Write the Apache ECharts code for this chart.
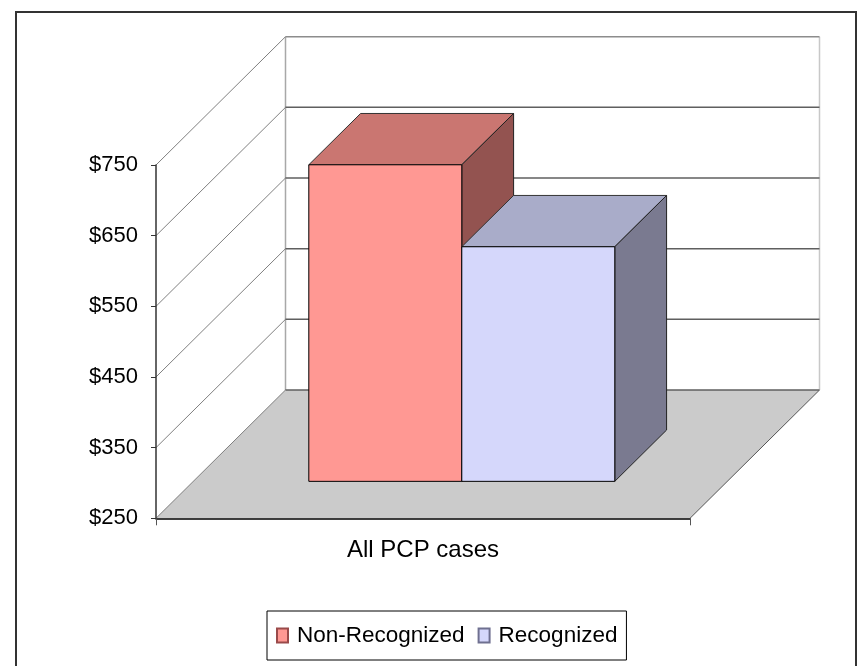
<!DOCTYPE html>
<html>
<head>
<meta charset="utf-8">
<script src="https://cdn.jsdelivr.net/npm/echarts@6/dist/echarts.min.js"></script>
<style>
  html, body { margin: 0; padding: 0; background: #fff; }
  #chart { width: 864px; height: 666px; }
</style>
</head>
<body>
<div id="chart"></div>
<script>
const categories = ['All PCP cases']
const seriesNames = ['Non-Recognized', 'Recognized']
const nonRecognized = [698]
const recognized = [582]
const yTicks = [250, 350, 450, 550, 650, 750]

// offset of the back wall from the front plane, px
const DEPTH_X = 129.5
const DEPTH_Y = -128.3
// bars sit inside the depth: start and thickness as a share of it
const BAR_FRONT = 0.288
const BAR_DEPTH = 0.40
// width of one bar as a share of the category band
const BAR_WIDTH = 0.2865

const FONT = "'Liberation Sans', Arial, sans-serif"

const faces = [
  { front: '#FF9893', top: '#CA7671', side: '#935350', border: '#9A4A4A' },
  { front: '#D5D7FB', top: '#A9ACC9', side: '#7A7A90', border: '#6F7090' }
]

// back wall, side wall and floor, one item per value tick
function renderWall (params, api) {
  const v = api.value(1)
  const p = api.coord([api.value(0), v])
  const band = api.size([1, 0])[0]
  const xl = p[0] - band / 2
  const xr = p[0] + band / 2
  const y = p[1]
  const children = []
  if (params.dataIndex === 0) {
    const yTop = api.coord([api.value(0), yTicks[yTicks.length - 1]])[1]
    children.push({
      type: 'polygon',
      shape: { points: [[xl, y], [xr, y], [xr + DEPTH_X, y + DEPTH_Y], [xl + DEPTH_X, y + DEPTH_Y]] },
      style: { fill: '#CBCBCB' }
    })
    children.push({
      type: 'line',
      shape: { x1: xr, y1: y, x2: xr + DEPTH_X, y2: y + DEPTH_Y },
      style: { stroke: '#555', lineWidth: 1 }
    })
    children.push({
      type: 'line',
      shape: { x1: xl + DEPTH_X, y1: yTop + DEPTH_Y, x2: xl + DEPTH_X, y2: y + DEPTH_Y },
      style: { stroke: '#A8A8A8', lineWidth: 1.5 }
    })
    children.push({
      type: 'line',
      shape: { x1: xr + DEPTH_X, y1: yTop + DEPTH_Y, x2: xr + DEPTH_X, y2: y + DEPTH_Y },
      style: { stroke: '#C8C8C8', lineWidth: 1.5 }
    })
  }
  children.push({
    type: 'line',
    shape: { x1: xl, y1: y, x2: xl + DEPTH_X, y2: y + DEPTH_Y },
    style: { stroke: '#808080', lineWidth: 1 }
  })
  const isTop = v === yTicks[yTicks.length - 1]
  children.push({
    type: 'line',
    shape: { x1: xl + DEPTH_X, y1: y + DEPTH_Y, x2: xr + DEPTH_X, y2: y + DEPTH_Y },
    style: { stroke: isTop ? '#8C8C8C' : '#5F5F5F', lineWidth: 1.5 }
  })
  return { type: 'group', children: children }
}

function barRenderer (k) {
  return function (params, api) {
    const cat = api.value(0)
    const base = api.coord([cat, yTicks[0]])
    const topP = api.coord([cat, api.value(1)])
    const band = api.size([1, 0])[0]
    const w = band * BAR_WIDTH
    const ox = DEPTH_X * BAR_FRONT
    const oy = DEPTH_Y * BAR_FRONT
    const dx = DEPTH_X * BAR_DEPTH
    const dy = DEPTH_Y * BAR_DEPTH
    const x0 = base[0] - w + k * w + ox + 1.5
    const x1 = x0 + w
    const yb = base[1] + oy
    const yt = topP[1] + oy
    const f = faces[k]
    return {
      type: 'group',
      children: [
        {
          type: 'polygon',
          shape: { points: [[x0, yt], [x1, yt], [x1 + dx, yt + dy], [x0 + dx, yt + dy]] },
          style: { fill: f.top, stroke: '#333', lineWidth: 1 }
        },
        {
          type: 'polygon',
          shape: { points: [[x1, yt], [x1 + dx, yt + dy], [x1 + dx, yb + dy], [x1, yb]] },
          style: { fill: f.side, stroke: '#222', lineWidth: 1 }
        },
        {
          type: 'rect',
          shape: { x: x0, y: yt, width: w, height: yb - yt },
          style: { fill: f.front, stroke: '#000', lineWidth: 1 }
        }
      ]
    }
  }
}

const chart = echarts.init(document.getElementById('chart'), null, { renderer: 'canvas' })

const option = {
  animation: false,
  backgroundColor: '#fff',
  textStyle: { fontFamily: FONT },
  grid: { left: 156, top: 165, width: 534, height: 353.3 },
  legend: {
    data: seriesNames,
    left: 267,
    top: 611,
    padding: [13, 9, 13, 9],
    itemGap: 13,
    itemWidth: 11,
    itemHeight: 14,
    icon: 'rect',
    borderColor: '#000',
    borderWidth: 1,
    textStyle: { fontSize: 22.5, color: '#000', fontFamily: FONT, padding: [0, 0, 0, 4] }
  },
  xAxis: {
    type: 'category',
    data: categories,
    boundaryGap: true,
    z: 10,
    axisLine: { show: true, lineStyle: { color: '#000', width: 1.5 } },
    axisTick: { show: true, length: 7, lineStyle: { color: '#555' } },
    axisLabel: { fontSize: 24, margin: 20, color: '#000', fontFamily: FONT },
    splitLine: { show: false }
  },
  yAxis: {
    type: 'value',
    min: 250,
    max: 750,
    interval: 100,
    z: 10,
    axisLine: { show: true, lineStyle: { color: '#333', width: 1.5 } },
    axisTick: { show: true, length: 5, lineStyle: { color: '#333' } },
    splitLine: { show: false },
    axisLabel: { formatter: v => '$' + v, fontSize: 22, margin: 18, color: '#000', fontFamily: FONT }
  },
  graphic: [
    {
      type: 'rect',
      silent: true,
      shape: { x: 16, y: 12, width: 840, height: 700 },
      style: { fill: 'none', stroke: '#333', lineWidth: 2 }
    }
  ],
  series: [
    {
      name: 'walls',
      type: 'custom',
      clip: false,
      silent: true,
      z: 1,
      renderItem: renderWall,
      encode: { x: 0, y: 1 },
      data: yTicks.map(v => [categories[0], v])
    },
    {
      name: seriesNames[0],
      type: 'custom',
      clip: false,
      z: 2,
      itemStyle: { color: faces[0].front, borderColor: faces[0].border, borderWidth: 1 },
      renderItem: barRenderer(0),
      encode: { x: 0, y: 1 },
      data: nonRecognized.map((v, i) => [categories[i], v])
    },
    {
      name: seriesNames[1],
      type: 'custom',
      clip: false,
      z: 3,
      itemStyle: { color: faces[1].front, borderColor: faces[1].border, borderWidth: 1 },
      renderItem: barRenderer(1),
      encode: { x: 0, y: 1 },
      data: recognized.map((v, i) => [categories[i], v])
    }
  ]
}

chart.setOption(option)
</script>
</body>
</html>
